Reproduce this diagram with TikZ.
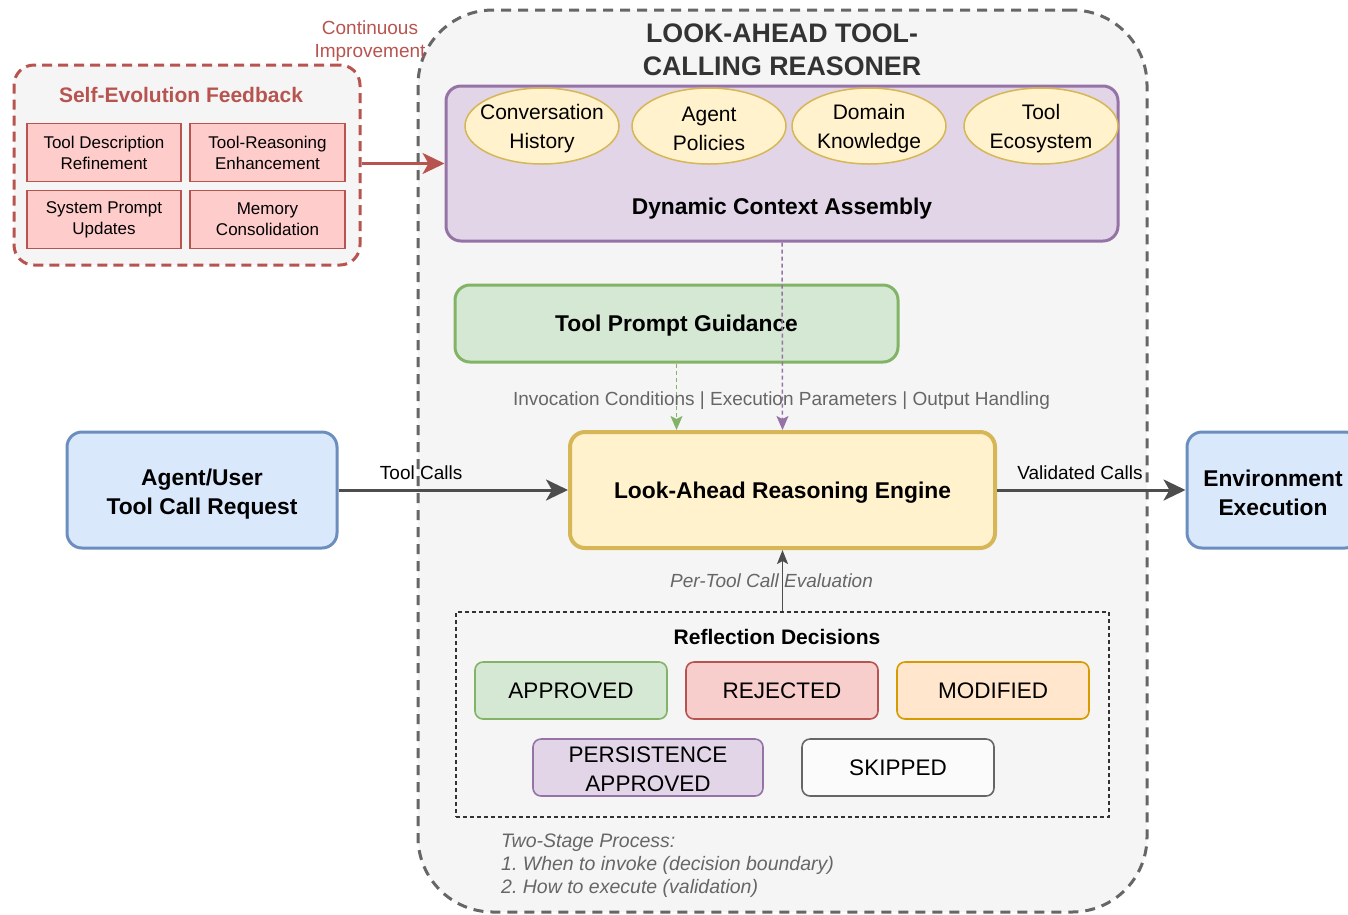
\documentclass[tikz,border=0pt]{standalone}
\usepackage{fontspec}
\setmainfont{Liberation Sans}
\usetikzlibrary{arrows.meta,shapes.geometric}
\frenchspacing

\definecolor{frameGray}{HTML}{666666}
\definecolor{panelFill}{HTML}{F5F5F5}
\definecolor{redStroke}{HTML}{B85450}
\definecolor{redFill}{HTML}{FFCCCC}
\definecolor{redFillB}{HTML}{F8CECC}
\definecolor{purStroke}{HTML}{9673A6}
\definecolor{purFill}{HTML}{E1D5E7}
\definecolor{yelStroke}{HTML}{D6B656}
\definecolor{yelFill}{HTML}{FFF2CC}
\definecolor{grnStroke}{HTML}{82B366}
\definecolor{grnFill}{HTML}{D5E8D4}
\definecolor{bluStroke}{HTML}{6C8EBF}
\definecolor{bluFill}{HTML}{DAE8FC}
\definecolor{orgStroke}{HTML}{D79B00}
\definecolor{orgFill}{HTML}{FFE6CC}
\definecolor{darkLine}{HTML}{4D4D4D}
\definecolor{titleGray}{HTML}{333333}
\definecolor{noteGray}{HTML}{666666}

\tikzset{
  x=1pt, y=-1pt,
  txt/.style={align=center, inner sep=0pt},
  bigbold/.style={font=\fontsize{22.8}{29}\selectfont\bfseries},
  plain/.style={font=\fontsize{22.5}{29}\selectfont},
  small/.style={font=\fontsize{17}{21}\selectfont},
  label/.style={font=\fontsize{19}{23}\selectfont, inner sep=0pt},
  framebox/.style={draw=frameGray, fill=panelFill, line width=3pt,
    dash pattern=on 10pt off 7pt, rounded corners=75pt},
  feedbox/.style={draw=redStroke, fill=panelFill, line width=3pt,
    dash pattern=on 10pt off 6pt, rounded corners=20pt},
  fbitem/.style={txt, small, draw=redStroke, fill=redFill, line width=1.5pt,
    minimum width=154pt, minimum height=58pt},
  ctxitem/.style={ellipse, draw=yelStroke, fill=yelFill, line width=1.5pt,
    inner sep=0pt, minimum width=154pt, minimum height=76pt},
  ctxtext/.style={txt, font=\fontsize{21}{29}\selectfont},
  bigbox/.style={inner sep=0pt, rounded corners=15pt, line width=3pt},
  boxtext/.style={txt, bigbold},
  decision/.style={txt, plain, rounded corners=8pt, line width=1.6pt,
    minimum width=192pt, minimum height=57pt},
  flow/.style={draw=darkLine, line width=3pt,
    -{Stealth[length=22pt, width=21pt, inset=6pt]}},
  feed/.style={dash pattern=on 4pt off 3pt, line width=1.5pt,
    -{Stealth[length=14pt, width=12pt, inset=3pt]}}
}

\begin{document}
\begin{tikzpicture}
\useasboundingbox (0,0) rectangle (1348,914);
\clip (0,0) rectangle (1348,914);

% outer reasoner frame
\node[framebox, minimum width=729pt, minimum height=902pt, inner sep=0pt] (frame) at (782.5,461) {};
\node[txt, font=\fontsize{26.8}{33}\selectfont\bfseries, text=titleGray] (title) at (782,50)
  {LOOK-AHEAD TOOL-\\CALLING REASONER};

% self-evolution feedback panel
\node[feedbox, minimum width=346pt, minimum height=200pt, inner sep=0pt] (feedback) at (187,165) {};
\node[txt, font=\fontsize{21}{25}\selectfont\bfseries, text=redStroke] (fbtitle) at (181,95)
  {Self-Evolution Feedback};
\node[fbitem] (tdr) at (104,152.5) {Tool Description\\Refinement};
\node[fbitem, minimum width=155pt] (tre) at (267.5,152.5) {Tool-Reasoning\\Enhancement};
\node[fbitem] (spu) at (104,219.5) {System Prompt\\Updates};
\node[fbitem, minimum width=155pt] (mem) at (267.5,219.5) {Memory\\Consolidation};

% dynamic context assembly
\node[bigbox, draw=purStroke, fill=purFill, minimum width=672pt, minimum height=155pt] (ctx) at (782,163.5) {};
\node[boxtext] (ctxlabel) at (782,209) {Dynamic Context Assembly};
\node[ctxitem] (conv) at (542,126) {};
\node[ctxtext] at ([yshift=-3pt]conv.center) {Conversation\\History};
\node[ctxitem] (pol) at (709,126) {};
\node[ctxtext] at ([yshift=-3pt]pol.center) {Agent\\Policies};
\node[ctxitem] (dom) at (869,126) {};
\node[ctxtext] at ([yshift=-3pt]dom.center) {Domain\\Knowledge};
\node[ctxitem] (eco) at (1041,126) {};
\node[ctxtext] at ([yshift=-3pt]eco.center) {Tool\\Ecosystem};

\node[txt, font=\fontsize{19}{23}\selectfont, text=redStroke] (contlabel) at (370,41)
  {Continuous\\Improvement};
\draw[draw=redStroke, line width=3pt, -{Stealth[length=22pt, width=21pt, inset=6pt]}]
  (feedback.east |- ctx.west) -- (ctx.west);

% tool prompt guidance
\node[bigbox, draw=grnStroke, fill=grnFill, minimum width=443pt, minimum height=77pt] (guide) at (676.5,323.5) {};
\node[boxtext] at ([yshift=-2pt]guide.center) {Tool Prompt Guidance};

% reasoning engine and endpoints
\node[bigbox, draw=yelStroke, fill=yelFill, line width=4pt, minimum width=425pt, minimum height=116pt] (engine)
  at (782.5,490) {};
\node[boxtext] at ([yshift=-3pt]engine.center) {Look-Ahead Reasoning Engine};
\node[bigbox, draw=bluStroke, fill=bluFill, minimum width=270pt, minimum height=116pt] (agent)
  at (202,490) {};
\node[boxtext] at ([yshift=-4pt]agent.center) {Agent/User\\Tool Call Request};
\node[bigbox, draw=bluStroke, fill=bluFill, minimum width=173pt, minimum height=116pt] (env)
  at (1273.5,490) {};
\node[boxtext] at ([xshift=-0.5pt, yshift=-3pt]env.center) {Environment\\Execution};

% context and guidance feeds
\draw[feed, draw=grnStroke] (guide.south) -- (guide.south |- engine.north)
  node[label, midway, xshift=105pt, yshift=-4pt, text=noteGray]
  {Invocation Conditions | Execution Parameters | Output Handling};
\draw[feed, draw=purStroke] (ctx.south) -- (engine.north);

% main flow
\draw[flow] (agent.east) -- (engine.west)
  node[label, pos=0.36, above=9pt] {Tool Calls};
\draw[flow] (engine.east) -- (env.west)
  node[label, pos=0.44, above=9pt] {Validated Calls};

% reflection decisions
\node[draw=titleGray, dash pattern=on 4pt off 3pt, line width=1.2pt,
  minimum width=653pt, minimum height=205pt, inner sep=0pt] (reflect) at (782.5,714.5) {};
\node[txt, font=\fontsize{21}{25}\selectfont\bfseries] (reftitle) at (777,637) {Reflection Decisions};
\node[decision, draw=grnStroke, fill=grnFill] (approved) at (571,690.5) {APPROVED};
\node[decision, draw=redStroke, fill=redFillB] (rejected) at (782,690.5) {REJECTED};
\node[decision, draw=orgStroke, fill=orgFill] (modified) at (993,690.5) {MODIFIED};
\node[decision, draw=purStroke, fill=purFill, minimum width=230pt] (persist) at (648,767.5) {};
\node[txt, plain] at ([yshift=-2pt]persist.center) {PERSISTENCE\\APPROVED};
\node[decision, draw=frameGray, fill=white!60!panelFill] (skipped) at (898,767.5) {SKIPPED};

\draw[draw=darkLine, line width=1.5pt, -{Stealth[length=14pt, width=11pt, inset=3pt]}]
  (reflect.north -| engine.south) -- (engine.south)
  node[label, midway, xshift=-11pt, text=noteGray, font=\fontsize{19}{23}\selectfont\itshape]
  {Per-Tool Call Evaluation};

% two-stage note
\node[anchor=west, align=left, inner sep=0pt, text=noteGray,
  font=\fontsize{19.5}{23}\selectfont\itshape] (stages) at (501,866)
  {Two-Stage Process:\\1. When to invoke (decision boundary)\\2. How to execute (validation)};
\end{tikzpicture}
\end{document}
